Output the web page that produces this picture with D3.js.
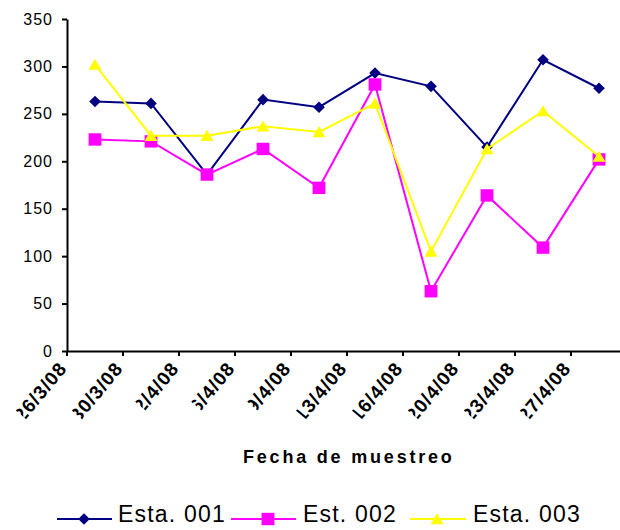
<!DOCTYPE html>
<html>
<head>
<meta charset="utf-8">
<script src="https://cdn.jsdelivr.net/npm/d3@7"></script>
<style>
  html, body { margin: 0; padding: 0; background: #ffffff; }
  svg { display: block; font-family: "Liberation Sans", Arial, sans-serif; }
</style>
</head>
<body>
<svg id="chart" width="620" height="530"></svg>
<script>
// Sampling dates (category axis)
const categories = ["26/3/08", "30/3/08", "2/4/08", "6/4/08", "9/4/08",
                    "13/4/08", "16/4/08", "20/4/08", "23/4/08", "27/4/08"];

// Measured values per station
const esta001 = [263, 261, 186, 265, 257, 293, 279, 215, 307, 277];
const est002  = [223, 221, 186, 213, 172, 281, 63, 164, 109, 202];
const esta003 = [302, 227, 227, 237, 231, 261, 105, 213, 253, 205];

const seriesNames   = ["Esta. 001", "Est. 002", "Esta. 003"];
const seriesColors  = ["#000080", "#FF00FF", "#FFFF00"];
const seriesMarkers = ["diamond", "square", "triangle"];
const seriesValues  = [esta001, est002, esta003];

const yTicks = [0, 50, 100, 150, 200, 250, 300, 350];
const xTitle = "Fecha de muestreo";

const svg = d3.select("#chart");

const x = d3.scaleBand().domain(categories).range([67, 627]).padding(0);
const y = d3.scaleLinear().domain([0, 350]).range([351, 19]);
const bw = x.bandwidth();

function markerPath(type) {
  if (type === "diamond") return "M0,-5.8L5.8,0L0,5.8L-5.8,0Z";
  if (type === "square") return "M-6.4,-6.2H6.4V6.2H-6.4Z";
  return "M0,-5.8L6.4,5.3H-6.4Z";
}

// Y axis
const yAxis = d3.axisLeft(y).tickValues(yTicks).tickSize(5).tickSizeOuter(0).tickPadding(9);
const gy = svg.append("g").attr("transform", "translate(67,0)").call(yAxis);
gy.select(".domain").attr("stroke", "#000").attr("stroke-width", 2);
gy.selectAll(".tick line").attr("stroke", "#000").attr("stroke-width", 2);
gy.selectAll(".tick text")
  .attr("fill", "#000")
  .attr("font-size", 16)
  .attr("letter-spacing", "1px")
  .attr("dy", null)
  .attr("y", 5)
  .attr("font-family", "Liberation Sans, Arial, sans-serif");

// X axis: ticks on category boundaries
const xAxis = d3.axisBottom(x).tickSize(5).tickSizeOuter(0).tickFormat("");
const gx = svg.append("g").attr("transform", "translate(0,351)").call(xAxis);
gx.selectAll(".tick").attr("transform", d => `translate(${x(d)},0)`);
gx.append("line")
  .attr("x1", x.range()[1]).attr("x2", x.range()[1])
  .attr("y1", 0).attr("y2", 5)
  .attr("stroke", "#000").attr("stroke-width", 2);
gx.select(".domain").attr("stroke", "#000").attr("stroke-width", 2);
gx.selectAll(".tick line").attr("stroke", "#000").attr("stroke-width", 2);

// Rotated category labels, the first glyph trimmed by a clip box
const defs = svg.append("defs");
const labelLayer = svg.append("g");
categories.forEach((c, i) => {
  const g = labelLayer.append("g")
    .attr("transform", `translate(${x(c) + 1},369) rotate(-50)`);
  const t = g.append("text")
    .attr("text-anchor", "end")
    .attr("font-size", 19)
    .attr("font-weight", "bold")
    .attr("letter-spacing", "1px")
    .attr("fill", "#000")
    .text(c);
  const len = t.node().getComputedTextLength();
  defs.append("clipPath").attr("id", "xlab-clip-" + i)
    .append("rect")
    .attr("x", -len + 5).attr("y", -30)
    .attr("width", len + 10).attr("height", 45);
  t.attr("clip-path", `url(#xlab-clip-${i})`);
});

// Axis title
svg.append("text")
  .attr("x", 243).attr("y", 463)
  .attr("font-size", 18)
  .attr("font-weight", "bold")
  .attr("letter-spacing", "2.8px")
  .attr("fill", "#000")
  .text(xTitle);

// Series lines and markers
const line = d3.line()
  .x((d, i) => x(categories[i]) + bw / 2)
  .y(d => y(d));

seriesValues.forEach((vals, s) => {
  const g = svg.append("g");
  g.append("path")
    .attr("d", line(vals))
    .attr("fill", "none")
    .attr("stroke", seriesColors[s])
    .attr("stroke-width", 2);
  g.selectAll("path.mk")
    .data(vals)
    .join("path")
    .attr("class", "mk")
    .attr("d", markerPath(seriesMarkers[s]))
    .attr("transform", (d, i) => `translate(${x(categories[i]) + bw / 2},${y(d)})`)
    .attr("fill", seriesColors[s]);
});

// Legend
const legendY = 519;
const legendItems = [
  { x1: 57, x2: 112, mx: 84, tx: 118 },
  { x1: 231, x2: 296, mx: 268, tx: 303 },
  { x1: 410, x2: 466, mx: 437, tx: 473 }
];
const lg = svg.append("g");
legendItems.forEach((it, s) => {
  lg.append("line")
    .attr("x1", it.x1).attr("x2", it.x2)
    .attr("y1", legendY).attr("y2", legendY)
    .attr("stroke", seriesColors[s]).attr("stroke-width", 2);
  lg.append("path")
    .attr("d", markerPath(seriesMarkers[s]))
    .attr("transform", `translate(${it.mx},${legendY})`)
    .attr("fill", seriesColors[s]);
  lg.append("text")
    .attr("x", it.tx).attr("y", 522)
    .attr("font-size", 23)
    .attr("letter-spacing", "1.2px")
    .attr("fill", "#000")
    .text(seriesNames[s]);
});
</script>
</body>
</html>
